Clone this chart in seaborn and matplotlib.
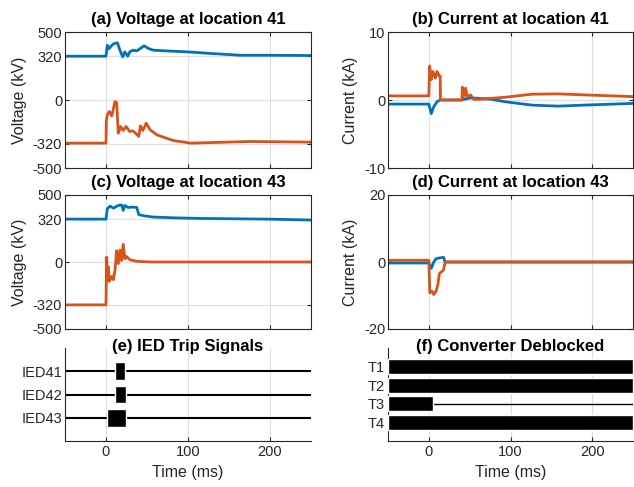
import numpy as np
import pandas as pd
import matplotlib.pyplot as plt
import seaborn as sns

# couleurs MATLAB par defaut
BLUE = '#0072BD'
ORANGE = '#D95319'

# (a) tension au point 41 (kV), temps en ms
a_t_pos = [-50, 0, 1.6, 4, 7, 10, 14, 17, 20.4, 23, 26.5, 29, 33, 37.5, 41.6, 46.5, 52, 58, 74, 99, 131, 164, 197, 250]
a_v_pos = [322, 322, 402, 378, 402, 415, 420, 366, 317, 354, 322, 354, 366, 361, 378, 398, 378, 366, 361, 354, 341, 329, 329, 327]
a_t_neg = [-50, 0, 0.5, 1.6, 4, 7, 11, 13, 15, 18, 21, 24.5, 29, 33, 40, 42, 45, 49, 54, 62, 70, 82, 103, 135, 176, 250]
a_v_neg = [-317, -317, -150, -110, -85, -117, -12, -20, -244, -195, -224, -195, -232, -227, -268, -190, -224, -171, -220, -256, -273, -298, -317, -312, -305, -310]

# (b) courant au point 41 (kA)
b_t_pos = [-50, 0, 3, 6, 10, 14, 40, 50, 61, 77, 93, 126, 158, 191, 250]
b_i_pos = [-0.6, -0.6, -2, -1, -0.25, 0, 0, 0.3, 0.25, 0.1, -0.25, -0.75, -0.9, -0.75, -0.5]
b_t_neg = [-50, 0, 1, 3, 5, 8, 10, 13, 14, 14.2, 40.6, 41, 43, 45, 47, 51, 55, 61, 93, 126, 158, 191, 250]
b_i_neg = [0.6, 0.6, 5, 3, 4.2, 3.2, 4.2, 3.5, 3.5, 0, 0, 1.9, 0.5, 1.75, 0.5, 0.75, 0.1, 0.1, 0.4, 0.85, 0.9, 0.75, 0.5]

# (c) tension au point 43 (kV)
c_t_pos = [-50, 0, 1.6, 5, 9, 15, 19, 21, 23, 27, 33, 37.5, 40, 46, 58, 82, 115, 197, 250]
c_v_pos = [320, 320, 398, 417, 402, 422, 426, 385, 422, 407, 410, 407, 354, 345, 335, 330, 325, 320, 313]
c_t_neg = [-50, 0, 0.8, 1.6, 2.9, 4, 7, 9, 11, 13, 15, 17, 19, 21, 23, 25, 29, 37.5, 54, 250]
c_v_neg = [-320, -320, 36, -132, -36, -145, -108, -132, -60, 84, -12, 89, 12, 132, 24, 41, 17, 5, 0, 0]

# (d) courant au point 43 (kA)
d_t_pos = [-50, 0, 3, 6, 9, 14, 18, 20, 250]
d_i_pos = [-0.3, -0.3, -1.9, 0, 1, 1.25, 1.4, 0, 0]
d_t_neg = [-50, 0, 1.2, 4, 6, 9, 11, 13, 15.5, 18, 20, 250]
d_i_neg = [0.5, 0.5, -9.2, -8.7, -9.7, -8.7, -6.8, -3.4, -2.9, -2.4, 0, 0]

# (e) signaux de declenchement des IED (debut / fin en ms)
ied_names = ['IED41', 'IED42', 'IED43']
ied_start = [11, 11, 1.3]
ied_end = [23.5, 24, 24]

# (f) convertisseurs debloques (debut / fin en ms)
conv_names = ['T1', 'T2', 'T3', 'T4']
conv_start = [-50, -50, -50, -50]
conv_end = [250, 250, 4.5, 250]

sns.set_style('ticks')
plt.rcParams['font.family'] = ['Liberation Sans', 'DejaVu Sans']
plt.rcParams['axes.unicode_minus'] = False
plt.rcParams['xtick.direction'] = 'in'
plt.rcParams['ytick.direction'] = 'in'
plt.rcParams['axes.edgecolor'] = '#262626'
plt.rcParams['axes.linewidth'] = 0.8
plt.rcParams['xtick.color'] = '#262626'
plt.rcParams['ytick.color'] = '#262626'
plt.rcParams['xtick.major.size'] = 3
plt.rcParams['ytick.major.size'] = 3
plt.rcParams['xtick.major.pad'] = 3
plt.rcParams['ytick.major.pad'] = 2

fig = plt.figure(figsize=(6.34, 4.87), dpi=100)

W, H = 634, 487
def box(x0, y0, x1, y1):
    return [x0 / W, 1 - y1 / H, (x1 - x0) / W, (y1 - y0) / H]

ax_a = fig.add_axes(box(65, 32, 311, 168))
ax_b = fig.add_axes(box(388, 32, 633, 168))
ax_c = fig.add_axes(box(65, 195, 311, 329))
ax_d = fig.add_axes(box(388, 195, 633, 329))
ax_e = fig.add_axes(box(65, 348, 311, 441))
ax_f = fig.add_axes(box(388, 348, 633, 441))

TITLE = dict(fontsize=12, fontweight='bold', color='black')
LABEL = dict(fontsize=11.5, color='#262626')
GRID = dict(color='#dedede', lw=0.8)


def waves(ax, t1, y1, t2, y2):
    sns.lineplot(x=t1, y=y1, ax=ax, color=BLUE, lw=2, estimator=None, sort=False)
    sns.lineplot(x=t2, y=y2, ax=ax, color=ORANGE, lw=2, estimator=None, sort=False)
    ax.set_xlim(-50, 250)
    ax.set_xticks([0, 100, 200])
    ax.set_xticklabels([])
    ax.grid(True, **GRID)
    ax.set_axisbelow(True)
    ax.tick_params(top=True, right=True, labelsize=10.5)
    for s in ax.spines.values():
        s.set_visible(True)


waves(ax_a, a_t_pos, a_v_pos, a_t_neg, a_v_neg)
ax_a.set_ylim(-500, 500)
ax_a.set_yticks([-500, -320, 0, 320, 500])
ax_a.set_yticklabels(['-500', '-320', '0', '320', '500'])
ax_a.set_ylabel('Voltage (kV)', **LABEL)
ax_a.set_title('(a) Voltage at location 41', **TITLE)

waves(ax_b, b_t_pos, b_i_pos, b_t_neg, b_i_neg)
ax_b.set_ylim(-10, 10)
ax_b.set_yticks([-10, 0, 10])
ax_b.set_yticklabels(['-10', '0', '10'])
ax_b.set_ylabel('Current (kA)', **LABEL)
ax_b.set_title('(b) Current at location 41', **TITLE)

waves(ax_c, c_t_pos, c_v_pos, c_t_neg, c_v_neg)
ax_c.set_ylim(-500, 500)
ax_c.set_yticks([-500, -320, 0, 320, 500])
ax_c.set_yticklabels(['-500', '-320', '0', '320', '500'])
ax_c.set_ylabel('Voltage (kV)', **LABEL)
ax_c.set_title('(c) Voltage at location 43', **TITLE)

waves(ax_d, d_t_pos, d_i_pos, d_t_neg, d_i_neg)
ax_d.set_ylim(-20, 20)
ax_d.set_yticks([-20, 0, 20])
ax_d.set_yticklabels(['-20', '0', '20'])
ax_d.set_ylabel('Current (kA)', **LABEL)
ax_d.set_title('(d) Current at location 43', **TITLE)

# signaux logiques
ied_pos = np.arange(1, len(ied_names) + 1)
for y in ied_pos:
    ax_e.axhline(y, color='black', lw=1.5, zorder=2)
ax_e.barh(ied_pos, np.subtract(ied_end, ied_start), left=ied_start,
          height=0.77, color='black', zorder=3)
ax_e.set_ylim(len(ied_names) + 1, 0)
ax_e.set_yticks(ied_pos)
ax_e.set_yticklabels(ied_names)

conv_pos = np.arange(1, len(conv_names) + 1)
for y in conv_pos:
    ax_f.axhline(y, color='black', lw=1.0, zorder=2)
ax_f.barh(conv_pos, np.subtract(conv_end, conv_start), left=conv_start,
          height=0.8, color='black', zorder=3)
ax_f.set_ylim(len(conv_names) + 1, 0)
ax_f.set_yticks(conv_pos)
ax_f.set_yticklabels(conv_names)

for ax, title in [(ax_e, '(e) IED Trip Signals'), (ax_f, '(f) Converter Deblocked')]:
    ax.set_xlim(-50, 250)
    ax.set_xticks([0, 100, 200])
    ax.grid(True, axis='x', **GRID)
    ax.set_axisbelow(True)
    ax.tick_params(labelsize=10.5, left=False)
    ax.spines['top'].set_visible(False)
    ax.spines['right'].set_visible(False)
    ax.set_xlabel('Time (ms)', **LABEL)
    ax.set_title(title, y=0.965, pad=0, **TITLE)

fig.savefig('out.png', dpi=100)
